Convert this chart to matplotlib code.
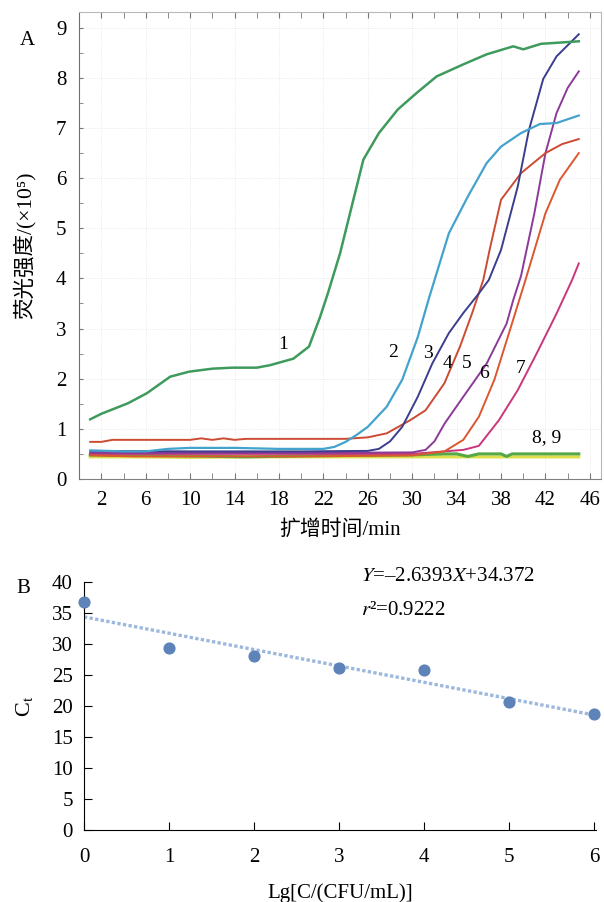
import matplotlib
matplotlib.use("Agg")
import matplotlib.pyplot as plt
import numpy as np

plt.rcParams['font.family'] = ['Liberation Serif', 'Noto Sans CJK SC']
plt.rcParams['mathtext.fontset'] = 'stix'

# ---- panel A: amplification curves (time in min, fluorescence x1e5) ----
t1 = [1, 2, 4.4, 6.1, 8.2, 9.9, 12, 13.8, 16, 17.2, 19.3, 20.7, 21.7, 22.4, 23.5, 24.7, 25.6, 27, 28.7, 30.4, 32.2, 34.6, 36.7, 39.1, 40, 41.6, 43, 45]
v1 = [1.19, 1.3, 1.51, 1.71, 2.04, 2.14, 2.2, 2.22, 2.22, 2.27, 2.4, 2.64, 3.23, 3.7, 4.5, 5.57, 6.37, 6.9, 7.37, 7.7, 8.03, 8.27, 8.47, 8.63, 8.57, 8.68, 8.7, 8.73]

t2 = [1, 4, 6, 8, 10, 14, 18, 22, 23, 24, 25, 26, 27.7, 29.1, 30.5, 31.5, 33.3, 35, 36.7, 38, 39.8, 41.5, 43, 45]
v2 = [0.57, 0.55, 0.55, 0.6, 0.62, 0.62, 0.6, 0.6, 0.64, 0.74, 0.88, 1.04, 1.44, 1.98, 2.83, 3.6, 4.9, 5.63, 6.3, 6.63, 6.9, 7.08, 7.1, 7.25]

t3 = [1, 10, 20, 26, 27, 28, 29.1, 30.5, 31.8, 33.3, 34.6, 36, 36.9, 38, 39.5, 40.5, 41.8, 43, 45]
v3 = [0.56, 0.55, 0.55, 0.56, 0.6, 0.75, 1.04, 1.64, 2.3, 2.91, 3.31, 3.7, 3.97, 4.57, 5.83, 6.95, 7.98, 8.43, 8.87]

t4 = [1, 2, 3, 10, 11, 12, 13, 14, 15, 24, 26, 27.7, 29.8, 31.2, 32.9, 34.3, 35.4, 36.4, 37, 38, 39.8, 42, 43.5, 45]
v4 = [0.74, 0.74, 0.78, 0.78, 0.81, 0.78, 0.81, 0.78, 0.8, 0.8, 0.83, 0.91, 1.17, 1.37, 1.91, 2.64, 3.31, 3.97, 4.6, 5.57, 6.1, 6.5, 6.68, 6.78]

t5 = [1, 10, 20, 30, 31.2, 32, 32.9, 34.6, 36.7, 38.5, 39.1, 39.8, 41, 42, 43, 44, 45]
v5 = [0.52, 0.52, 0.52, 0.53, 0.58, 0.75, 1.1, 1.64, 2.3, 3.1, 3.57, 4.05, 5.3, 6.5, 7.3, 7.8, 8.13]

t6 = [1, 5, 10, 20, 30, 32.9, 34.6, 36, 37.4, 38.8, 40.2, 42, 43.3, 45]
v6 = [0.47, 0.45, 0.45, 0.45, 0.47, 0.55, 0.78, 1.24, 1.98, 2.97, 3.97, 5.3, 5.97, 6.5]

t7 = [1, 5, 10, 20, 30, 34.6, 36, 37.8, 39.5, 41.2, 43, 44.4, 45]
v7 = [0.5, 0.5, 0.5, 0.5, 0.5, 0.58, 0.66, 1.17, 1.77, 2.5, 3.3, 3.97, 4.3]

t8 = [1, 5, 10, 15, 20, 25, 30, 33, 34, 35, 36, 38, 38.5, 39, 42, 45]
v8 = [0.48, 0.47, 0.46, 0.44, 0.46, 0.47, 0.48, 0.5, 0.5, 0.45, 0.5, 0.5, 0.45, 0.5, 0.5, 0.5]

t9 = [1, 5, 10, 15, 20, 25, 30, 35, 40, 45]
v9 = [0.44, 0.44, 0.43, 0.44, 0.44, 0.44, 0.44, 0.44, 0.44, 0.44]

curves = [(t1, v1, '#3f9b5d', 1.8), (t2, v2, '#43a3cc', 1.6), (t3, v3, '#3b3d8e', 1.4),
          (t4, v4, '#cc4b33', 1.4), (t5, v5, '#8b3a97', 1.4), (t6, v6, '#dc5630', 1.4),
          (t7, v7, '#c9367c', 1.4), (t8, v8, '#55a845', 2.2), (t9, v9, '#dede4a', 2.2)]

curve_labels = ['1', '2', '3', '4', '5', '6', '7', '8, 9']
label_x = [17.9, 27.8, 31.0, 32.7, 34.5, 36.0, 39.3, 40.8]
label_y = [2.6, 2.43, 2.42, 2.22, 2.22, 2.02, 2.12, 0.73]

# ---- panel B: standard curve ----
lg_c = [0, 1, 2, 3, 4, 5, 6]
ct = [36.8, 29.4, 28.0, 26.2, 25.8, 20.6, 18.7]
slope, intercept = -2.6393, 34.372

fig = plt.figure(figsize=(6.04, 9.02), dpi=100)

ax = fig.add_axes([0.131, 0.469, 0.864, 0.518])
for t, v, c, lw in curves[::-1]:
    ax.plot(t, v, color=c, lw=lw)
for s, x, y in zip(curve_labels, label_x, label_y):
    ax.text(x, y, s, fontsize=14)
ax.set_xlim(0, 47)
ax.set_ylim(0, 9.32)
ax.set_xticks(range(2, 47, 4))
ax.set_xticks(range(4, 47, 4), minor=True)
ax.set_yticks(range(0, 10))
ax.set_yticks(np.arange(0.5, 9.5, 1), minor=True)
ax.tick_params(which='both', direction='in', length=4, color='#777777', top=True,
               labelsize=15, pad=9)
ax.tick_params(axis='y', which='both', length=3)
ax.grid(True, which='major', ls=':', lw=0.6, color='#e4e4e4')
for side in ['top', 'right', 'bottom']:
    ax.spines[side].set_color('#b8b8b8')
ax.spines['left'].set_color('#707070')
ax.spines['bottom'].set_color('#808080')
ax.set_xlabel('扩增时间/min', fontsize=15, labelpad=7)
ax.set_ylabel('荧光强度/(×10⁵)', fontsize=15.5, labelpad=15)
fig.text(0.046, 0.955, 'A', fontsize=15, ha='center', va='center')

bx = fig.add_axes([0.139, 0.0798, 0.848, 0.275])
xs = np.array([0, 6])
bx.plot(xs, slope * xs + intercept, ls=(0, (1, 0.7)), lw=2.4, color='#9cb8dc')
bx.scatter(lg_c, ct, s=60, color='#5d83b8', zorder=3, clip_on=False)
bx.set_xlim(0, 6.02)
bx.set_ylim(0, 40)
bx.set_xticks(range(0, 7))
bx.set_yticks(range(0, 41, 5))
bx.tick_params(direction='in', length=6, labelsize=15, pad=8)
bx.tick_params(axis='x', pad=13)
bx.spines['top'].set_visible(False)
bx.spines['right'].set_visible(False)
bx.set_xlabel('Lg[C/(CFU/mL)]', fontsize=15, labelpad=12)
bx.set_ylabel('C$_\\mathrm{t}$', fontsize=16, labelpad=12)
bx.text(0.54, 1.024, '$Y$=–2.6393$X$+34.372', transform=bx.transAxes, fontsize=15,
        va='center', ha='left')
bx.text(0.54, 0.887, '$r$²=0.9222', transform=bx.transAxes, fontsize=15,
        va='center', ha='left')
fig.text(0.038, 0.348, 'B', fontsize=15, ha='center', va='center')

fig.savefig('out.png', dpi=100)
